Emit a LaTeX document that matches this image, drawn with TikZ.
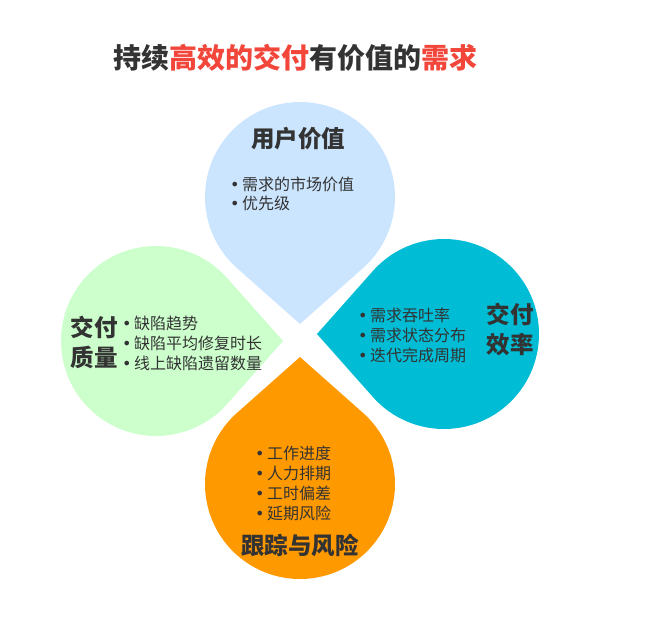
\documentclass[tikz,border=0pt]{standalone}
\usepackage{fontspec}
\setmainfont{Noto Sans CJK SC}
\newfontfamily\dotfont{DejaVu Sans}
\usetikzlibrary{positioning}
\definecolor{inkgray}{HTML}{333333}
\definecolor{titlered}{HTML}{F2463A}
\definecolor{dropblue}{HTML}{CCE5FF}
\definecolor{dropgreen}{HTML}{CCFFCC}
\definecolor{dropteal}{HTML}{00BCD4}
\definecolor{droporange}{HTML}{FF9900}
\newcommand{\drop}[3]{\fill[#3] ([shift={(#2:127)}]#1) -- ([shift={(#2+41.6:95)}]#1) arc[start angle=#2+41.6, end angle=#2+318.4, radius=95] -- cycle;}
\newcommand{\itemdot}{{\dotfont •}\hspace{2.5pt}}

\begin{document}
\begin{tikzpicture}[x=1pt,y=-1pt,
  head/.style={font=\fontsize{23.5}{30}\selectfont\bfseries, text=inkgray, align=center, inner sep=0pt},
  items/.style={font=\fontsize{16}{20}\selectfont, text=inkgray, align=left, anchor=west, inner sep=0pt}]
\useasboundingbox (0,0) rectangle (672,642);
\coordinate (cuser) at (300,197);
\coordinate (cquality) at (156,341);
\coordinate (cspeed) at (444,334);
\coordinate (crisk) at (300,484);
\drop{cuser}{90}{dropblue}
\drop{cquality}{0}{dropgreen}
\drop{cspeed}{180}{dropteal}
\drop{crisk}{-90}{droporange}
\node[font=\fontsize{28}{32}\selectfont\bfseries, text=inkgray] (title) at (295,58) {持续\textcolor{titlered}{高效的交付}有价值的\textcolor{titlered}{需求}};
\node[head] (user) at (298,139) {用户价值};
\node[items, font=\fontsize{16}{19}\selectfont] (userlist) at (230,194) {\itemdot 需求的市场价值\\\itemdot 优先级};
\node[head] (quality) at (94,342) {交付\\质量};
\node[items] (qualitylist) at (122,343) {\itemdot 缺陷趋势\\\itemdot 缺陷平均修复时长\\\itemdot 线上缺陷遗留数量};
\node[items] (speedlist) at (358,335) {\itemdot 需求吞吐率\\\itemdot 需求状态分布\\\itemdot 迭代完成周期};
\node[head] (speed) at (510,329) {交付\\效率};
\node[items] (risklist) at (255,483) {\itemdot 工作进度\\\itemdot 人力排期\\\itemdot 工时偏差\\\itemdot 延期风险};
\node[head] (risk) at (300,545) {跟踪与风险};
\end{tikzpicture}
\end{document}
